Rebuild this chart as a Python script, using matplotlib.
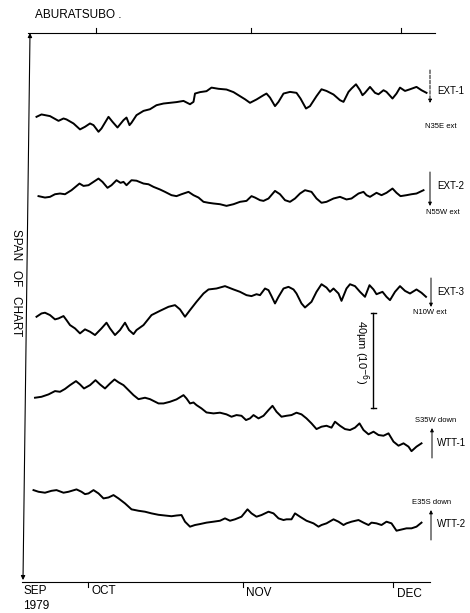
import matplotlib.pyplot as plt

plt.rcParams['font.family'] = ['Liberation Sans', 'DejaVu Sans']

# days counted from 1 Oct 1979, values in micro-strain relative to first reading
ext1_day = [-11.1, -10.1, -8.4, -6.7, -5.7, -5.1, -3.7, -2.4, -1.4, -0.4, 0.3, 1.3, 1.9, 3.3, 4.1, 5.1,
            6.3, 6.9, 7.5, 7.9, 8.9, 10.3, 11.6, 12.9, 14.3, 15.6, 16.9, 18.3, 19.6, 20.3, 20.6, 21.6,
            22.9, 23.9, 25.3, 26.9, 28.3, 29.6, 30.6, 31.6, 32.9, 34.3, 34.9, 35.6, 36.6, 37.3, 38.3,
            39.6, 40.9, 41.7, 42.8, 43.6, 44.9, 45.9, 46.9, 48.3, 49.6, 50.3, 51.3, 51.9, 52.8, 53.6,
            54.1, 54.6, 55.6, 56.6, 57.3, 58.3, 58.9, 60.1, 60.9, 61.6, 62.6, 63.6, 64.9, 65.9, 66.9]
ext1_val = [0, 1.0, 0.3, -1.7, -0.7, -1.1, -2.8, -5.3, -4.2, -2.8, -3.5, -6.3, -4.9, 0, -2.1, -4.5,
            -1.4, -0.3, -3.5, -2.5, 0.7, 2.5, 3.2, 4.9, 5.6, 5.9, 6.2, 6.7, 5.3, 6.3, 9.8, 10.4,
            10.8, 12.3, 11.8, 11.5, 10.4, 8.7, 7.4, 5.9, 7.3, 9.1, 9.8, 8.1, 4.5, 6.3, 9.8,
            10.5, 10.1, 7.7, 3.5, 4.5, 8.7, 11.6, 10.9, 9.4, 7.0, 6.3, 10.5, 11.9, 13.7, 11.2,
            9.1, 10.1, 12.6, 10.1, 9.5, 11.2, 10.5, 7.7, 9.8, 12.3, 10.9, 11.6, 12.6, 11.2, 10.1]

ext2_day = [-10.7, -9.4, -8.4, -7.4, -6.4, -5.4, -4.1, -2.5, -1.7, -0.7, 0.3, 1.3, 2.1, 3.1, 3.9, 4.9,
            5.7, 6.3, 6.9, 7.9, 8.9, 10.3, 11.3, 12.3, 13.6, 14.6, 15.9, 16.9, 17.9, 19.3, 20.3, 21.3,
            22.3, 23.3, 24.3, 25.6, 26.9, 28.3, 29.6, 30.9, 31.9, 32.6, 33.6, 34.3, 35.3, 36.6, 37.6,
            38.6, 39.6, 40.6, 41.6, 42.6, 43.9, 44.9, 45.9, 46.9, 48.3, 49.6, 50.9, 51.9, 53.3, 54.3,
            54.9, 55.6, 56.9, 57.9, 58.9, 60.1, 60.9, 61.7, 62.9, 63.9, 64.9, 66.3]
ext2_val = [0, -0.6, -0.3, 0.8, 1.1, 0.8, 2.5, 5.3, 4.3, 4.6, 6.0, 7.4, 6.0, 3.5, 4.6, 6.7,
            5.6, 6.0, 4.6, 6.7, 6.5, 5.3, 5.0, 3.9, 2.8, 1.8, 0.4, 0, 0.8, 1.8, 0.4, -0.6,
            -2.4, -2.8, -3.1, -3.4, -4.1, -3.4, -2.4, -2.0, 0, -0.6, -1.7, -2.0, -1.0, 2.2, 0.8,
            -1.7, -2.4, -1.0, 1.1, 2.5, 1.8, -1.0, -2.8, -2.4, -1.0, -0.3, -1.4, -1.0, 1.1, 1.8,
            0.4, -0.3, 1.4, 0.4, 1.4, 3.2, 1.4, 0, 0.4, 0.8, 1.1, 2.5]

ext3_day = [-11.1, -10.1, -9.4, -8.4, -7.4, -6.7, -5.7, -5.1, -4.4, -3.4, -2.4, -1.4, -0.4, 0.6, 1.9,
            2.9, 3.6, 4.6, 5.6, 6.6, 7.4, 8.3, 8.9, 10.3, 11.9, 13.6, 15.3, 16.6, 17.6, 18.6, 19.6,
            20.9, 22.3, 23.3, 24.9, 26.6, 28.3, 29.6, 30.9, 31.9, 32.9, 33.6, 34.6, 35.3, 35.9, 36.6,
            37.3, 38.3, 39.3, 40.3, 40.9, 41.9, 42.6, 43.9, 44.9, 45.9, 46.9, 47.6, 48.3, 49.3, 49.9,
            50.9, 51.6, 52.6, 53.6, 54.6, 55.5, 56.3, 56.9, 58.1, 58.9, 59.6, 60.6, 61.6, 62.6, 63.6,
            64.9, 65.9, 66.8]
ext3_val = [0, 1.4, 1.7, 0.7, -1.1, -0.7, 0.3, -1.4, -3.5, -4.9, -7.0, -5.3, -6.3, -7.7, -4.9,
            -2.5, -4.9, -7.7, -5.6, -2.5, -5.6, -7.3, -5.6, -3.5, 0.7, 2.5, 4.2, 4.9, 3.1, 0, 2.8,
            6.3, 9.8, 11.5, 11.9, 12.9, 11.5, 10.5, 9.1, 8.7, 9.5, 9.1, 11.9, 11.2, 8.7, 5.6,
            8.4, 11.9, 12.6, 11.5, 9.8, 5.6, 3.9, 6.3, 10.5, 13.7, 12.3, 10.5, 11.9, 9.8, 6.7,
            11.9, 13.7, 12.9, 10.5, 8.4, 13.3, 11.5, 9.5, 10.5, 8.4, 7.0, 10.5, 12.9, 10.9, 9.8,
            11.5, 10.1, 8.4]

wtt1_day = [-11.4, -10.1, -8.7, -7.4, -6.4, -5.4, -4.4, -3.2, -2.4, -1.6, -0.4, 0.7, 1.6, 2.6, 3.6,
            4.5, 5.3, 6.3, 7.3, 8.3, 9.3, 10.6, 11.6, 13.3, 14.3, 15.6, 16.9, 18.3, 18.9, 19.6, 20.3,
            20.9, 21.9, 22.9, 24.3, 25.6, 26.9, 27.9, 28.9, 29.9, 30.8, 31.6, 32.3, 33.3, 34.3, 35.3,
            36.1, 36.9, 37.9, 38.9, 39.9, 40.9, 41.9, 42.9, 43.9, 44.9, 45.9, 46.9, 47.9, 48.6, 49.6,
            50.6, 51.6, 52.6, 53.5, 54.3, 55.3, 56.3, 57.3, 58.3, 59.3, 60.3, 61.3, 62.3, 63.3, 63.9,
            64.9, 65.9]
wtt1_val = [0, 0.4, 1.4, 2.8, 2.5, 3.7, 5.3, 7.0, 5.6, 3.9, 5.3, 7.4, 5.6, 3.9, 6.0,
            7.7, 6.5, 5.3, 3.2, 1.1, -0.6, 0, -0.6, -2.4, -2.4, -1.7, -0.7, 1.1, -0.3, -2.4, -2.0,
            -3.1, -4.5, -6.2, -6.6, -6.3, -7.0, -8.0, -7.3, -7.6, -9.4, -8.7, -7.3, -8.7, -7.6, -5.2,
            -3.4, -5.9, -8.0, -7.6, -7.3, -6.3, -7.0, -8.7, -10.8, -13.2, -12.2, -11.8, -12.6, -10.1, -11.8,
            -13.2, -13.6, -12.6, -10.8, -13.6, -15.4, -14.3, -15.7, -16.0, -15.0, -18.5, -20.2, -19.2, -20.6, -22.5,
            -20.6, -19.2]

wtt2_day = [-11.7, -10.7, -9.4, -8.1, -7.1, -5.7, -4.7, -3.1, -2.1, -1.4, -0.7, 0.3, 1.3, 2.3, 3.3,
            4.3, 5.3, 6.6, 7.9, 9.3, 10.6, 11.9, 13.3, 14.6, 15.9, 16.9, 17.9, 18.6, 19.6, 20.6, 21.6,
            22.9, 24.3, 25.6, 26.6, 27.6, 28.6, 29.9, 31.1, 31.9, 32.9, 33.9, 35.3, 36.3, 37.3, 38.3,
            38.9, 39.9, 40.6, 41.6, 42.9, 44.3, 45.3, 45.9, 46.9, 48.3, 49.3, 50.3, 50.9, 51.9, 53.3,
            54.3, 55.3, 55.9, 56.9, 57.9, 58.9, 59.9, 60.9, 61.9, 62.9, 63.9, 64.9, 65.9]
wtt2_val = [0, -0.7, -1.1, -0.3, 0, -1.1, -0.7, 0.3, -0.7, -1.7, -1.4, 0, -1.4, -3.5, -3.1,
            -2.1, -3.5, -5.6, -8.1, -8.7, -9.1, -9.8, -10.4, -10.7, -11.0, -10.7, -10.5, -13.3, -15.4, -14.7, -14.3,
            -13.7, -13.3, -12.9, -11.9, -12.9, -12.3, -11.2, -8.1, -9.8, -11.2, -10.5, -9.1, -9.8, -11.9, -12.6,
            -12.3, -12.3, -9.8, -11.2, -12.9, -14.0, -15.4, -14.7, -14.0, -12.3, -13.3, -14.7, -14.0, -13.3, -12.6,
            -13.7, -14.7, -13.7, -14.0, -14.7, -13.3, -14.0, -17.1, -16.6, -16.1, -16.1, -15.4, -13.7]

traces = [(ext1_day, ext1_val, 195.9), (ext2_day, ext2_val, 162.5), (ext3_day, ext3_val, 111.7),
          (wtt1_day, wtt1_val, 77.6), (wtt2_day, wtt2_val, 38.7)]

month_days = [0, 31, 61]
bar_um = 40

W, H = 470, 613
fig = plt.figure(figsize=(W / 100, H / 100), dpi=100)
ax = fig.add_axes([22 / W, 31 / H, 413 / W, 549 / H])
ax.set_xlim(-14, 68.6)
ax.set_ylim(0, 231.2)
ax.axis('off')


def px(x, y):
    return x / W, 1 - y / H


for d, v, base in traces:
    ax.plot(d, [base + s for s in v], color='black', lw=1.4, solid_joinstyle='round')

# top and bottom time lines
ax.plot([-12.8, 68.6], [231.2, 231.2], color='black', lw=0.8, clip_on=False)
ax.plot([-14, 67.6], [0, 0], color='black', lw=0.8, clip_on=False)
for m in month_days:
    ax.plot([m + 0.8, m + 0.8], [231.2, 233.4], color='black', lw=0.8, clip_on=False)
    ax.plot([m - 0.8, m - 0.8], [0, -2.2], color='black', lw=0.8, clip_on=False)

# span of chart arrow
ax.annotate('', xy=(-12.4, 231.2), xytext=(-13.8, 0.8),
            arrowprops=dict(arrowstyle='<|-|>', lw=0.8, color='black', mutation_scale=6,
                            shrinkA=0, shrinkB=0))
fig.text(*px(16, 283), 'SPAN   OF   CHART', rotation=-90, ha='center', va='center',
         fontsize=8.5)

fig.text(*px(35, 15), 'ABURATSUBO .', ha='left', va='center', fontsize=8.5)
fig.text(*px(23, 591), 'SEP', ha='left', va='center', fontsize=8.5)
fig.text(*px(23, 606), '1979', ha='left', va='center', fontsize=8.5)
fig.text(*px(92, 591), 'OCT', ha='left', va='center', fontsize=8.5)
fig.text(*px(246, 593), 'NOV', ha='left', va='center', fontsize=8.5)
fig.text(*px(397, 594), 'DEC', ha='left', va='center', fontsize=8.5)

# scale bar
bx = 56.2
ax.plot([bx, bx], [73.3, 73.3 + bar_um], color='black', lw=1.0, clip_on=False)
ax.plot([bx - 0.5, bx + 0.5], [73.3, 73.3], color='black', lw=1.0)
ax.plot([bx - 0.5, bx + 0.5], [73.3 + bar_um, 73.3 + bar_um], color='black', lw=1.0)
fig.text(*px(361, 352), '40µm (10$^{-6}$)', rotation=-90, ha='center', va='center', fontsize=8)


# component labels and arrows
def arrow(x, y0, y1, ls='-'):
    ax.annotate('', xy=px(x, y1), xytext=px(x, y0), xycoords='figure fraction',
                textcoords='figure fraction',
                arrowprops=dict(arrowstyle='-|>', lw=0.7, color='black', mutation_scale=5,
                                linestyle=ls, shrinkA=0, shrinkB=0))


arrow(430, 70, 103, '--')
fig.text(*px(437, 91), 'EXT-1', ha='left', va='center', fontsize=7)
fig.text(*px(441, 127), 'N35E ext', ha='center', va='center', fontsize=5.5)

arrow(430, 172, 206)
fig.text(*px(437, 186), 'EXT-2', ha='left', va='center', fontsize=7)
fig.text(*px(443, 213), 'N55W ext', ha='center', va='center', fontsize=5.5)

arrow(431, 278, 307)
fig.text(*px(437, 292), 'EXT-3', ha='left', va='center', fontsize=7)
fig.text(*px(430, 313), 'N10W ext', ha='center', va='center', fontsize=5.5)

arrow(432, 458, 428)
fig.text(*px(437, 443), 'WTT-1', ha='left', va='center', fontsize=7)
fig.text(*px(436, 420), 'S35W down', ha='center', va='center', fontsize=5.5)

arrow(431, 540, 510)
fig.text(*px(437, 524), 'WTT-2', ha='left', va='center', fontsize=7)
fig.text(*px(432, 503), 'E35S down', ha='center', va='center', fontsize=5.5)

fig.savefig('out.png', dpi=100, facecolor='white')
